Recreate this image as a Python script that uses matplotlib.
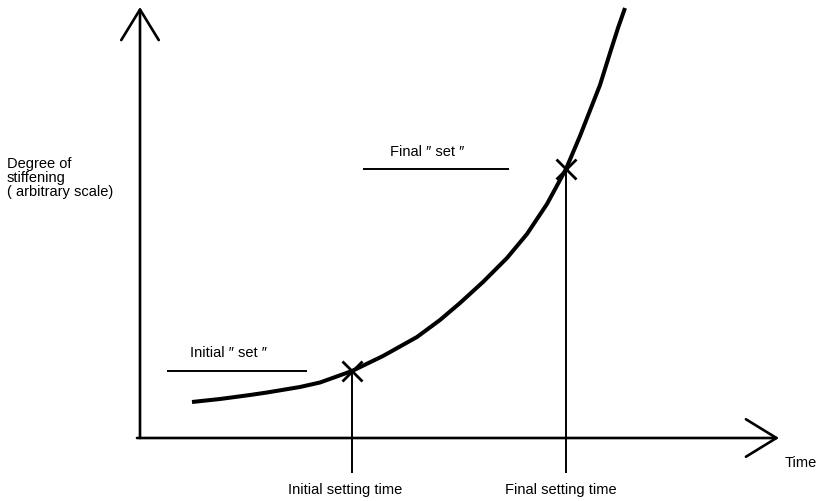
import matplotlib
matplotlib.use('Agg')
import matplotlib.pyplot as plt

plt.rcParams['font.family'] = ['Liberation Sans', 'DejaVu Sans']

# stiffening curve, arbitrary units
time = [5.2, 8.0, 11.0, 12.7, 16.0, 18.0, 21.2, 24.3, 27.7, 30.0, 32.0,
        34.3, 36.7, 38.7, 40.7, 42.6, 44.0, 46.0, 47.0, 47.8, 48.5]
stiffening = [3.6, 3.9, 4.3, 4.55, 5.1, 5.55, 6.7, 8.2, 10.1, 11.8, 13.5,
              15.6, 18.0, 20.4, 23.4, 26.9, 30.2, 35.3, 38.5, 41.0, 43.0]

# initial and final set points
set_time = [21.2, 42.6]
set_stiffening = [6.7, 26.9]
set_names = ['Initial \u2033 set \u2033', 'Final \u2033 set \u2033']
set_line_from = [2.7, 22.3]
set_line_to = [16.7, 36.9]
time_labels = ['Initial setting time', 'Final setting time']

fig = plt.figure(figsize=(8.2, 5.01), dpi=100)
ax = fig.add_axes([0, 0, 1, 1])
ax.set_xlim(-14, 68)
ax.set_ylim(-6.3, 43.8)
ax.axis('off')

# axes drawn as open arrows
arrow = dict(arrowstyle='->,head_length=22,head_width=13.5', lw=1.9,
             color='black', mutation_scale=1, shrinkA=0, shrinkB=0)
ax.annotate('', xy=(63.9, 0), xytext=(-0.3, 0), arrowprops=arrow)
ax.annotate('', xy=(0, 43.1), xytext=(0, 0), arrowprops=arrow)

ax.plot(time, stiffening, color='black', lw=2.9, solid_capstyle='butt',
        solid_joinstyle='round')
ax.plot(set_time, set_stiffening, 'x', color='black', ms=14, mew=2)
ax.vlines(set_time, -3.5, set_stiffening, color='black', lw=1.4)
ax.hlines(set_stiffening, set_line_from, set_line_to, color='black', lw=1.4)

fs = 10.5
ax.text(5.0, 8.1, set_names[0], fontsize=fs, va='baseline')
ax.text(25.0, 28.2, set_names[1], fontsize=fs, va='baseline')
ax.text(set_time[0] - 0.7, -5.6, time_labels[0], fontsize=fs, ha='center', va='baseline')
ax.text(set_time[1] - 0.5, -5.6, time_labels[1], fontsize=fs, ha='center', va='baseline')
ax.text(64.5, -2.9, 'Time', fontsize=fs, va='baseline')

for i, line in enumerate(['Degree of', 'stiffening', '( arbitrary scale)']):
    ax.text(-13.3, 27.0 - 1.4 * i, line, fontsize=fs, va='baseline')

plt.savefig('out.png', dpi=100)
